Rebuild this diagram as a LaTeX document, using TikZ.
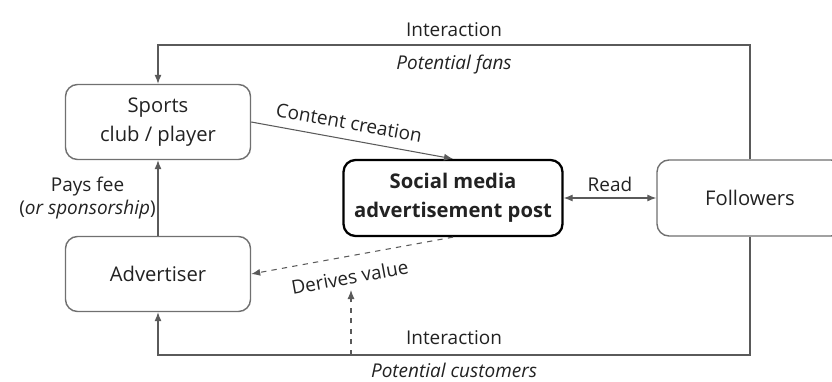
\documentclass[tikz,border=0pt]{standalone}
\usepackage{fontspec}
\setmainfont{Open Sans}
\usetikzlibrary{arrows.meta}
\definecolor{boxgray}{HTML}{707070}
\definecolor{linegray}{HTML}{5A5A5A}
\definecolor{txt}{HTML}{222222}
\begin{document}
\begin{tikzpicture}[->, >={Latex[length=1.8mm,width=1.4mm]}, semithick, color=linegray]
\tikzset{
    actor/.style= {rectangle, rounded corners=0.24cm, draw=boxgray, fill=white, text=txt, line width=0.8pt, minimum width=3.7cm, minimum height=1.5cm, align=center, font=\fontsize{11.5}{16.5}\selectfont},
    post/.style= {actor, draw=black, line width=1.3pt, minimum width=4.38cm, minimum height=1.52cm, font=\fontsize{11.5}{16.5}\selectfont\bfseries},
    lbl/.style= {text=txt, font=\fontsize{10.8}{13}\selectfont},
}
\useasboundingbox (0,0) rectangle (16.64,7.62);

\node[actor] (sports) at (3.16,5.18) {Sports\\club / player};
\node[actor] (adv) at (3.16,2.14) {Advertiser};
\node[post] (post) at (9.06,3.66) {Social media\\advertisement post};
\node[actor, minimum width=3.72cm, minimum height=1.52cm] (fol) at (15.0,3.66) {Followers};

\coordinate (topR) at (15.0,6.72);
\coordinate (topL) at (3.16,6.72);
\coordinate (botR) at (15.0,0.52);
\coordinate (botL) at (3.16,0.52);
\coordinate (cust) at (7.02,0.52);
\coordinate (custTip) at (7.02,1.82);

% loops through the followers
\draw (fol.north) -- (topR) -- node[lbl, above=1pt] {Interaction} node[lbl, below=2pt] {\itshape Potential fans} (topL) -- (sports.north);
\draw (fol.south) -- (botR) -- node[lbl, above=2.5pt] {Interaction} node[lbl, below=4pt, inner sep=0.5pt] {\itshape Potential customers} (botL) -- (adv.south);
\draw[dashed] (cust) -- (custTip);

\path
(sports.east) edge node[lbl, above=2pt, sloped, pos=0.47] {Content creation} (post.north)
(adv.north) edge node[lbl, left, align=center, inner sep=1pt] {Pays fee\\(\textit{or sponsorship})} (sports.south)
(post.east) edge[<->] node[lbl, above] {Read} (fol.west)
(post.south) edge[dashed] node[lbl, below=4pt, sloped, pos=0.53] {Derives value} (adv.east);
\end{tikzpicture}
\end{document}
